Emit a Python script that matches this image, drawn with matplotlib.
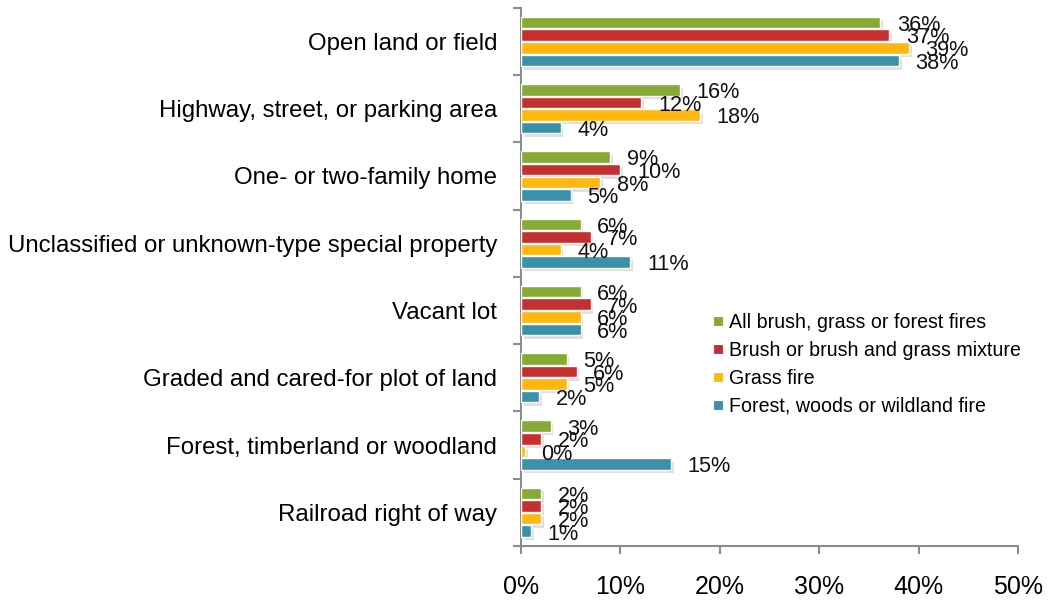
import matplotlib as mpl
import matplotlib.pyplot as plt
import matplotlib.patheffects as pe
import numpy as np
from matplotlib.lines import Line2D

mpl.use("Agg")

plt.rcParams["font.family"] = ["Liberation Sans", "DejaVu Sans"]

categories = [
    "Open land or field",
    "Highway, street, or parking area",
    "One- or two-family home",
    "Unclassified or unknown-type special property",
    "Vacant lot",
    "Graded and cared-for plot of land",
    "Forest, timberland or woodland",
    "Railroad right of way",
]
series = [
    "All brush, grass or forest fires",
    "Brush or brush and grass mixture",
    "Grass fire",
    "Forest, woods or wildland fire",
]
all_fires = [36.1, 16.0, 9.0, 6.0, 6.0, 4.6, 3.0, 2.0]
brush_mix = [37.0, 12.1, 10.0, 7.0, 7.0, 5.6, 2.0, 2.0]
grass_fire = [39.0, 18.0, 8.0, 4.0, 6.0, 4.6, 0.4, 2.0]
forest_fire = [38.0, 4.0, 5.0, 11.0, 6.0, 1.8, 15.1, 1.0]
values = [all_fires, brush_mix, grass_fire, forest_fire]
colors = ["#86AA34", "#C4302F", "#FFB80F", "#3B91A9"]

fig = plt.figure(figsize=(10.63, 6.01), dpi=100)
ax = fig.add_axes([0.490, 0.0915, 0.468, 0.8955])

y = np.arange(len(categories))
step = 0.187
height = 0.172
shadow = [pe.SimplePatchShadow(offset=(2, -2.5), shadow_rgbFace="#808080", alpha=0.25),
          pe.Normal()]

for i, (vals, color) in enumerate(zip(values, colors)):
    pos = y + (i - 1.5) * step
    bars = ax.barh(pos, vals, height=height, color=color, edgecolor="white",
                   linewidth=1, zorder=3)
    for bar in bars:
        bar.set_path_effects(shadow)
    for p, v in zip(pos, vals):
        ax.annotate(f"{v:.0f}%", (v, p), xytext=(12, -2), textcoords="offset points",
                    ha="left", va="center", fontsize=15.6, color="#111111", zorder=5)

ax.set_xlim(0, 50)
ax.set_ylim(len(categories) - 0.5, -0.5)
ax.set_xticks(np.arange(0, 51, 10))
ax.set_xticklabels([f"{t}%" for t in range(0, 51, 10)], fontsize=18)
ax.set_yticks(y)
ax.set_yticklabels(categories, fontsize=17.3)
ax.set_yticks(np.arange(-0.5, len(categories)), minor=True)

for side in ["top", "right"]:
    ax.spines[side].set_visible(False)
for side in ["left", "bottom"]:
    ax.spines[side].set_color("#8c8c8c")
    ax.spines[side].set_linewidth(1.5)

ax.tick_params(axis="y", which="major", length=0, pad=17)
ax.tick_params(axis="y", which="minor", length=6, width=1.5, color="#8c8c8c")
ax.tick_params(axis="x", length=6, width=1.5, color="#8c8c8c", pad=15)

handles = [Line2D([], [], marker="s", linestyle="none", markersize=7,
                  markerfacecolor=c, markeredgecolor="white", markeredgewidth=0.8)
           for c in colors]
fig.legend(handles, series, loc="center left", bbox_to_anchor=(0.670, 0.394),
           frameon=False, fontsize=14.1, handlelength=0.6, handletextpad=0.25,
           labelspacing=0.46, borderpad=0, borderaxespad=0)

fig.savefig("out.png", dpi=100)
